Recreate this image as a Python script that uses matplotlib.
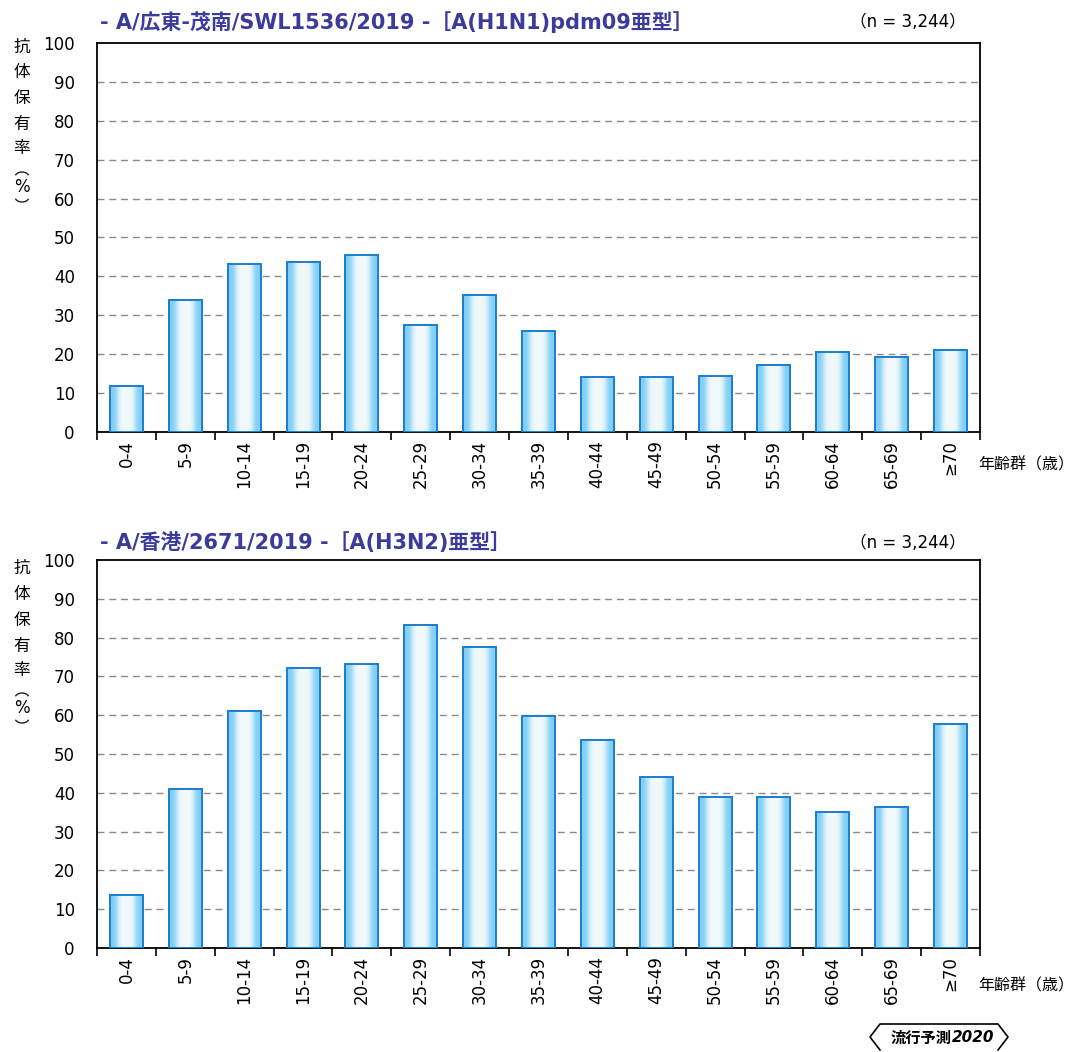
import numpy as np
import matplotlib.pyplot as plt
from matplotlib.colors import to_rgb
from matplotlib.lines import Line2D
from matplotlib.patches import Arc

plt.rcParams['font.family'] = ['DejaVu Sans', 'Noto Sans CJK JP']
CJK = ['Noto Sans CJK JP', 'DejaVu Sans']

ages = ['0-4', '5-9', '10-14', '15-19', '20-24', '25-29', '30-34', '35-39',
        '40-44', '45-49', '50-54', '55-59', '60-64', '65-69', '≥70']
h1n1 = [11.8, 34.0, 43.2, 43.8, 45.5, 27.5, 35.2, 26.0,
        14.1, 14.1, 14.4, 17.1, 20.6, 19.3, 21.2]
h3n2 = [13.7, 41.0, 61.2, 72.2, 73.3, 83.2, 77.6, 59.8,
        53.7, 44.1, 39.0, 39.0, 35.1, 36.3, 57.8]

titles = ['- A/広東-茂南/SWL1536/2019 -［A(H1N1)pdm09亜型］',
          '- A/香港/2671/2019 -［A(H3N2)亜型］']
n_label = '（n = 3,244）'
title_color = '#3b3b9b'

# horizontal gradient used inside each bar
blue = np.array(to_rgb('#7fcff7'))
white = np.array(to_rgb('#f1f9fb'))
t = np.linspace(0, 1, 64)
w = np.exp(-((t - 0.5) / 0.3) ** 4)
grad = (blue[None, :] + (white - blue)[None, :] * w[:, None])[None, :, :]

fig = plt.figure(figsize=(10.75, 10.52), dpi=100)


def fx(px):
    return px / 1075


def fy(py):
    return 1 - py / 1052


axes_pos = [[fx(97), fy(432), 883 / 1075, 389 / 1052],
            [fx(97), fy(948), 883 / 1075, 388 / 1052]]
title_y = [22, 543]

for pos, vals, title, ty in zip(axes_pos, [h1n1, h3n2], titles, title_y):
    ax = fig.add_axes(pos)
    x = np.arange(len(ages))
    bw = 0.56
    for xi, v in zip(x, vals):
        ax.imshow(grad, extent=[xi - bw / 2, xi + bw / 2, 0, v],
                  aspect='auto', zorder=3, interpolation='bilinear')
    ax.bar(x, vals, width=bw, facecolor='none', edgecolor='#1b7dcc',
           linewidth=1.4, zorder=4)
    ax.set_xlim(-0.5, len(ages) - 0.5)
    ax.set_ylim(0, 100)
    ax.set_yticks(range(0, 101, 10))
    ax.tick_params(axis='y', length=0, pad=16, labelsize=12)
    ax.set_xticks(x)
    ax.set_xticklabels(ages, rotation=90, fontsize=12)
    ax.tick_params(axis='x', which='major', length=0, pad=6)
    ax.set_xticks(np.arange(-0.5, len(ages), 1), minor=True)
    ax.tick_params(axis='x', which='minor', length=6, width=1.2, direction='out')
    for yv in range(10, 100, 10):
        ax.axhline(yv, color='#8a8a8a', linewidth=1.0, linestyle=(0, (5, 3.5)), zorder=1)
    for s in ax.spines.values():
        s.set_linewidth(1.3)
        s.set_color('black')

    fig.text(fx(100), fy(ty), title, fontsize=15, fontweight='bold',
             color=title_color, va='center', ha='left')
    fig.text(fx(966), fy(ty), n_label, fontsize=12, va='center', ha='right')

    # vertical y-axis label
    for ch, dy in zip('抗体保有率', [25, 51, 77, 103, 127]):
        fig.text(fx(22), fy(ty + dy), ch, fontsize=12, va='center', ha='center',
                 family=CJK)
    fig.add_artist(Arc((fx(22), fy(ty + 155)), 14 / 1075, 10 / 1052,
                       theta1=15, theta2=165, color='#222222', linewidth=1.0))
    fig.text(fx(22), fy(ty + 165), '%', fontsize=12, va='center', ha='center')
    fig.add_artist(Arc((fx(22), fy(ty + 175)), 14 / 1075, 10 / 1052,
                       theta1=195, theta2=345, color='#222222', linewidth=1.0))

    fig.text(fx(978), fy(ty + 443), '年齢群（歳）', fontsize=11.5,
             va='center', ha='left', family=CJK)

# logo at bottom right
px = [880, 870, 880, 998, 1008, 998]
py = [1050, 1037, 1024, 1024, 1037, 1050]
fig.add_artist(Line2D([fx(p) for p in px], [fy(p) for p in py],
                      color='black', linewidth=1.2))
fig.text(fx(952), fy(1038), '流行予測', fontsize=11, fontweight='bold',
         ha='right', va='center', family=CJK)
fig.text(fx(952), fy(1038), '2020', fontsize=11, fontweight='bold',
         style='italic', ha='left', va='center')

fig.savefig('out.png', dpi=100)
